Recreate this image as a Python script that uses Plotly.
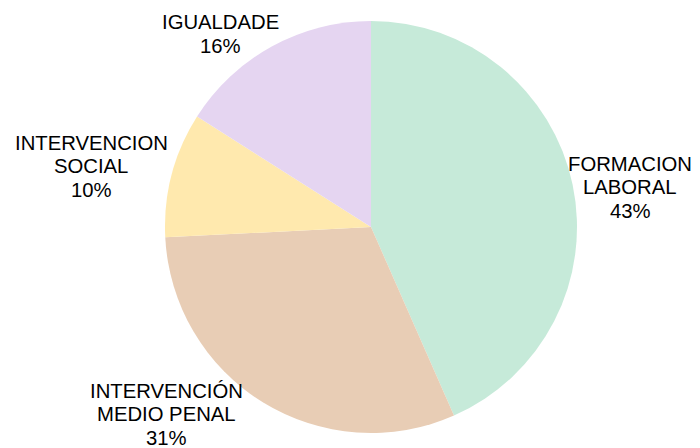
import plotly.graph_objects as go

labels = ["FORMACION<br>LABORAL", "INTERVENCIÓN<br>MEDIO PENAL", "INTERVENCION<br>SOCIAL", "IGUALDADE"]
values = [43.4, 30.8, 9.8, 16.0]
colors = ["#C6EAD9", "#E8CDB5", "#FFE9AE", "#E5D5F1"]

W, H = 692, 440  # page body has an 8px margin
cx, cy, r = 363, 219, 206

# label block centres (figure pixels), layout only
label_pos = [(622, 179), (158, 406), (83, 158), (212, 26)]
line_gap = 23.5

fig = go.Figure(go.Pie(
    labels=labels,
    values=values,
    sort=False,
    direction="clockwise",
    rotation=0,
    marker=dict(colors=colors, line=dict(width=0)),
    textinfo="none",
    domain=dict(x=[(cx - r) / W, (cx + r) / W], y=[1 - (cy + r) / H, 1 - (cy - r) / H]),
    showlegend=False,
    hoverinfo="label+percent",
))

total = sum(values)
for lab, v, (px, py) in zip(labels, values, label_pos):
    lines = lab.split("<br>") + [f"{round(v / total * 100)}%"]
    n = len(lines)
    for i, line in enumerate(lines):
        ly = py + (i - (n - 1) / 2) * line_gap
        fig.add_annotation(
            x=px / W, y=1 - ly / H, xref="paper", yref="paper",
            xanchor="center", yanchor="middle", align="center",
            text=line,
            showarrow=False,
            font=dict(family="Liberation Sans, Arial", size=20.3, color="#000000"),
        )

fig.update_layout(
    width=W,
    height=H,
    margin=dict(l=0, r=0, t=0, b=0),
    paper_bgcolor="white",
    plot_bgcolor="white",
    showlegend=False,
)

fig.write_html("out.html")
